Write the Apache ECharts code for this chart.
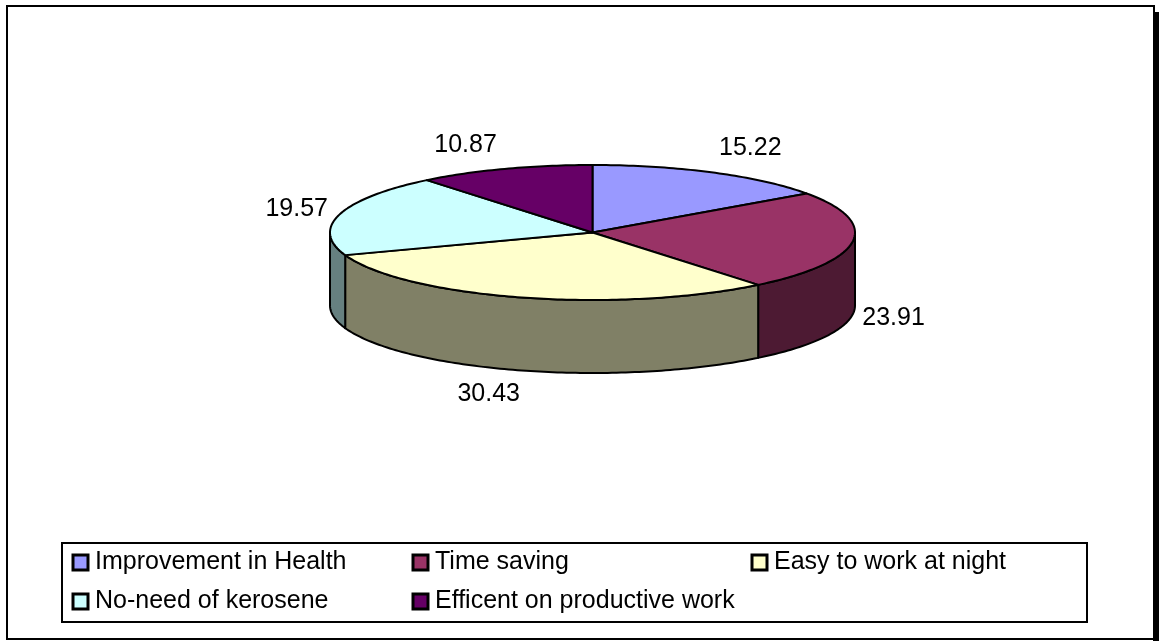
<!DOCTYPE html>
<html>
<head>
<meta charset="utf-8">
<style>html,body{margin:0;padding:0;background:#fff}#chart{width:1159px;height:641px}</style>
<script src="https://cdn.jsdelivr.net/npm/echarts@6/dist/echarts.min.js"></script>
</head>
<body>
<div id="chart"></div>
<script>
// Reported benefits of household lighting, as percentages
const categories = ['Improvement in Health', 'Time saving', 'Easy to work at night', 'No-need of kerosene', 'Efficent on productive work'];
const shares = [15.22, 23.91, 30.43, 19.57, 10.87];
const topColors = ['#9999FF', '#993366', '#FFFFCC', '#CCFFFF', '#660066'];
const wallColors = ['#4D4D80', '#4D1A33', '#808066', '#668080', '#330033'];

// Tilted disc layout
const disc = { cx: 592.5, cy: 232.5, rx: 262.5, ry: 67.5, depth: 73 };
// Label offset from the rim point at each slice's middle angle
const labelShift = [[37, -24], [41, 76], [-33, 97], [-43, -5], [-39, -24]];

const total = shares.reduce((a, b) => a + b, 0);
const rimPoint = (deg, drop) => {
  const r = deg * Math.PI / 180;
  return [disc.cx + disc.rx * Math.sin(r), disc.cy - disc.ry * Math.cos(r) + drop];
};
const arcPoints = (from, to, drop) => {
  const n = Math.max(2, Math.ceil(Math.abs(to - from)));
  const pts = [];
  for (let i = 0; i <= n; i++) pts.push(rimPoint(from + (to - from) * i / n, drop));
  return pts;
};

function renderSlice(index) {
  return function (params, api) {
    const before = shares.slice(0, index).reduce((a, b) => a + b, 0);
    const start = before / total * 360;
    const end = start + api.value(0) / total * 360;
    const mid = (start + end) / 2;
    const stroke = { stroke: '#000', lineWidth: 2, lineJoin: 'round' };
    const children = [];

    // Only the front half of the rim (90 to 270 degrees) shows a wall
    const wallFrom = Math.max(start, 90);
    const wallTo = Math.min(end, 270);
    if (wallTo > wallFrom) {
      children.push({
        type: 'polygon',
        shape: { points: arcPoints(wallFrom, wallTo, 0).concat(arcPoints(wallTo, wallFrom, disc.depth)) },
        style: Object.assign({ fill: wallColors[index] }, stroke)
      });
    }
    children.push({
      type: 'polygon',
      shape: { points: [[disc.cx, disc.cy]].concat(arcPoints(start, end, 0)) },
      style: Object.assign({ fill: topColors[index] }, stroke)
    });
    const anchor = rimPoint(mid, 0);
    children.push({
      type: 'text',
      x: anchor[0] + labelShift[index][0],
      y: anchor[1] + labelShift[index][1],
      style: {
        text: shares[index].toFixed(2),
        fill: '#000',
        font: '25px "Liberation Sans", Arial, sans-serif',
        align: 'center',
        verticalAlign: 'middle'
      }
    });
    return { type: 'group', children };
  };
}

const legendText = { color: '#000', fontSize: 25, fontFamily: '"Liberation Sans", Arial, sans-serif', padding: [0, 0, 0, 2] };
const legendColumn = (names, left, top) => ({
  data: names,
  left, top,
  orient: 'vertical',
  padding: 0,
  itemGap: 14,
  itemWidth: 15,
  itemHeight: 15,
  icon: 'rect',
  itemStyle: { borderColor: '#000', borderWidth: 3 },
  selectedMode: false,
  textStyle: legendText
});

const chart = echarts.init(document.getElementById('chart'), null, { renderer: 'canvas' });
chart.setOption({
  animation: false,
  backgroundColor: '#fff',
  graphic: [
    { type: 'rect', silent: true, z: -1, shape: { x: 7, y: 6, width: 1147, height: 633 }, style: { fill: '#fff', stroke: '#000', lineWidth: 2 } },
    { type: 'rect', silent: true, z: -1, shape: { x: 1153, y: 12, width: 6, height: 629 }, style: { fill: '#000' } },
    { type: 'rect', silent: true, z: -1, shape: { x: 62, y: 543, width: 1025, height: 79 }, style: { fill: '#fff', stroke: '#000', lineWidth: 2 } }
  ],
  legend: [
    legendColumn([categories[0], categories[3]], 71.5, 550),
    legendColumn([categories[1], categories[4]], 411.5, 550),
    legendColumn([categories[2]], 750.5, 550)
  ],
  series: categories.map((name, i) => ({
    type: 'custom',
    name,
    coordinateSystem: 'none',
    itemStyle: { color: topColors[i] },
    data: [[shares[i]]],
    renderItem: renderSlice(i)
  }))
});
</script>
</body>
</html>
